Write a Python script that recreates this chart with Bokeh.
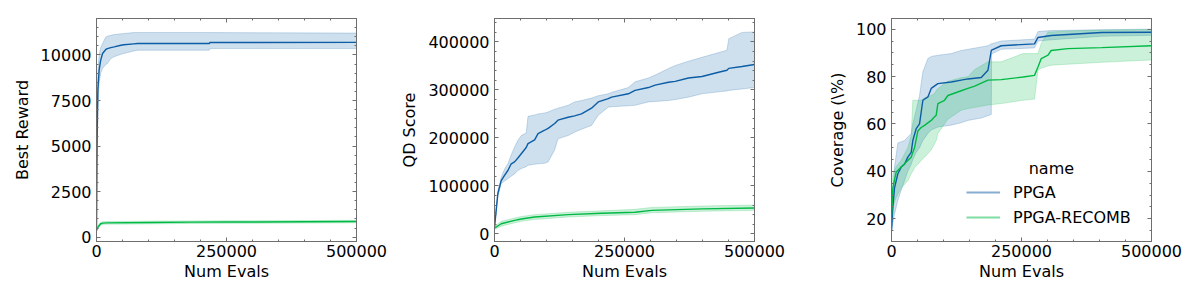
from bokeh.plotting import figure
from bokeh.layouts import row
from bokeh.models import (Range1d, FixedTicker, LinearAxis, BasicTickFormatter,
                          CustomJSTickFormatter, Legend, LegendItem, Label)
from bokeh.embed import file_html
from bokeh.resources import INLINE

# ---------------- data ----------------
series_names = ["PPGA", "PPGA-RECOMB"]
x_ticks = [0, 250000, 500000]

# Panel 1: Best Reward
reward_ppga_x = [0, 1000, 2500, 5000, 8000, 11600, 17900, 21000, 27500, 34000, 47000, 52600, 71800, 79000, 217000, 218000, 500000]
reward_ppga_mean = [400, 5000, 8000, 9160, 9700, 10077, 10300, 10350, 10400, 10440, 10530, 10560, 10610, 10625, 10625, 10680, 10690]
reward_ppga_hi = [400, 6200, 9000, 10000, 10400, 10625, 10990, 11030, 11080, 11120, 11160, 11175, 11230, 11230, 11230, 11230, 11200]
reward_ppga_lo = [400, 3800, 6800, 8400, 9000, 9250, 9480, 9530, 9800, 9900, 10040, 10077, 10220, 10260, 10260, 10350, 10350]

reward_rec_x = [0, 3000, 8000, 12000, 20000, 100000, 181000, 250000, 400000, 500000]
reward_rec_mean = [370, 560, 740, 775, 785, 805, 825, 830, 845, 860]
reward_rec_hi = [430, 640, 820, 850, 860, 880, 895, 900, 915, 930]
reward_rec_lo = [310, 480, 660, 700, 715, 730, 755, 760, 775, 790]

# Panel 2: QD Score
qd_ppga_x = [0, 6400, 12900, 19300, 25700, 32200, 38600, 45000, 51500, 61000, 64400, 77200, 83700, 96500, 103000,
             115800, 122000, 141600, 154000, 167300, 186600, 199500, 218800, 225200, 257400, 270300, 296000,
             308900, 334600, 347500, 373000, 399000, 431000, 447000, 450500, 476000, 500000]
qd_ppga_mean = [14000, 83500, 111000, 122000, 132000, 146000, 150000, 158000, 167000, 180000, 188000, 196000, 209000, 216000, 220000,
                230000, 237000, 243000, 246000, 250000, 262000, 275000, 282000, 285000, 292000, 299000, 305000,
                310000, 316000, 318000, 325000, 328000, 337000, 341000, 345000, 349000, 353000]
qd_ppga_hi = [14000, 90000, 118000, 135000, 146000, 165000, 181000, 195000, 205000, 210000, 245000, 248000, 250000, 252000, 254000,
              260000, 262000, 268000, 275000, 278000, 283000, 288000, 292000, 295000, 305000, 317000, 325000,
              331000, 345000, 351000, 360000, 368000, 378000, 383000, 407000, 420000, 421000]
qd_ppga_lo = [14000, 78000, 105000, 110000, 115000, 120000, 125000, 132000, 136000, 140000, 143000, 145000, 146000, 147000, 150000,
              175000, 198000, 205000, 212000, 218000, 226000, 247000, 264000, 265000, 267000, 268000, 275000,
              276000, 278000, 280000, 285000, 292000, 296000, 298000, 299000, 302000, 305000]

qd_rec_x = [0, 12900, 38600, 51500, 77000, 141600, 206000, 270000, 302000, 399000, 500000]
qd_rec_mean = [12000, 21000, 28000, 31000, 35000, 40000, 43000, 45000, 49000, 52000, 54000]
qd_rec_hi = [15000, 26000, 33000, 36000, 40000, 45000, 48000, 51000, 55000, 58000, 60000]
qd_rec_lo = [9000, 16000, 23000, 26000, 30000, 35000, 38000, 40000, 44000, 47000, 49000]

# Panel 3: Coverage
cov_ppga_x = [0, 2600, 5800, 12200, 18600, 25000, 31400, 37900, 41000, 47500, 53900, 60300, 70000, 76400, 89200,
              114900, 134000, 147000, 172600, 185500, 191900, 192500, 211000, 275000, 281700, 307000, 404000, 500000]
cov_ppga_mean = [15, 25, 33, 39, 41.8, 43, 46, 48, 53, 58, 60, 70, 71.4, 75, 77,
                 77.7, 78.5, 79, 79.6, 82.7, 91.0, 91.2, 93.0, 93.8, 96.5, 97.3, 98.6, 98.7]
cov_ppga_hi = [15, 30, 42, 52, 52.5, 53, 54.5, 56, 60, 65.8, 72, 82, 87.6, 88.5, 89,
               89.7, 91, 91.5, 92.5, 93, 93.8, 93.8, 95.0, 95.8, 99.0, 99.4, 99.8, 100]
cov_ppga_lo = [15, 18, 22, 27.7, 32, 36, 40, 43, 45, 48, 50, 53, 56, 57.5, 58.7,
               59.5, 60.5, 61.5, 62.5, 63.5, 64, 89.5, 91.5, 92.1, 95.0, 95.5, 97.0, 97.4]

cov_rec_x = [0, 2600, 9000, 18600, 31400, 37900, 41000, 44300, 50700, 57000, 63500, 76400, 82800, 86000, 89200,
             102000, 108500, 134000, 147000, 160000, 185500, 211000, 253000, 275000, 281700, 288000, 301000,
             307000, 339000, 404000, 500000]
cov_rec_mean = [20.7, 33, 39.7, 41.8, 44.6, 46, 48, 50, 57, 58.5, 59.4, 61.5, 63, 63.7, 68.6,
                70, 72, 74, 75, 76, 78.5, 78.7, 79.8, 80.5, 84, 87.6, 89,
                91, 91.8, 92.2, 93.0]
cov_rec_hi = [22, 39, 42, 44.6, 50, 55, 70, 70, 70, 70, 71, 72, 72.8, 74, 75,
              77, 78, 79.5, 79.9, 83, 86.2, 86.2, 89.7, 89.7, 89.7, 94, 98.8,
              98.8, 99.2, 99.6, 99.9]
cov_rec_lo = [18, 25, 29, 33, 36, 39, 40, 41.5, 43, 44.6, 46, 49, 51.7, 53, 56,
              60, 62, 65.8, 66.5, 67, 68, 68.6, 70, 70.5, 82.7, 83.5, 84.5,
              84.8, 85.2, 86, 87]

BLUE = "#0C5DA5"
GREEN = "#00B945"
FRAME = "#6e6e6e"
FONT = "DejaVu Sans"
FS = "16px"


def style_axis(ax, ticker, show_labels):
    ax.ticker = ticker
    ax.axis_line_color = FRAME
    ax.major_tick_line_color = FRAME
    ax.minor_tick_line_color = FRAME
    ax.major_tick_in = 4
    ax.major_tick_out = 0
    ax.minor_tick_in = 2
    ax.minor_tick_out = 0
    ax.major_label_text_font = FONT
    ax.major_label_text_font_size = FS
    ax.major_label_text_color = "#000000"
    ax.axis_label_text_font = FONT
    ax.axis_label_text_font_size = FS
    ax.axis_label_text_font_style = "normal"
    ax.axis_label_text_color = "#000000"
    if show_labels:
        ax.formatter = BasicTickFormatter(use_scientific=False)
    else:
        ax.formatter = CustomJSTickFormatter(code="return ''")
        ax.major_label_text_font_size = "0px"


def make_panel(y_start, y_end, yticks, yminor, ylabel, series):
    p = figure(frame_width=260, frame_height=223,
               min_border_left=96, min_border_right=41, min_border_top=18, min_border_bottom=48,
               x_range=Range1d(0, 500000), y_range=Range1d(y_start, y_end),
               output_backend="svg", toolbar_location=None, tools="")
    p.xgrid.visible = False
    p.ygrid.visible = False
    p.outline_line_color = FRAME
    p.outline_line_width = 1
    p.background_fill_color = "white"
    p.border_fill_color = "white"

    xt_minor = list(range(0, 500001, 50000))
    xtick = FixedTicker(ticks=x_ticks, minor_ticks=xt_minor)
    ytick = FixedTicker(ticks=yticks, minor_ticks=yminor)

    style_axis(p.xaxis[0], xtick, True)
    p.xaxis[0].axis_label = "Num Evals"
    p.xaxis[0].major_label_standoff = 3
    p.xaxis[0].axis_label_standoff = 2
    style_axis(p.yaxis[0], ytick, True)
    p.yaxis[0].axis_label = ylabel
    p.yaxis[0].major_label_standoff = 5
    p.yaxis[0].axis_label_standoff = 6

    top = LinearAxis()
    style_axis(top, FixedTicker(ticks=x_ticks, minor_ticks=xt_minor), False)
    p.add_layout(top, "above")
    right = LinearAxis()
    style_axis(right, FixedTicker(ticks=yticks, minor_ticks=yminor), False)
    p.add_layout(right, "right")

    for (xs, m, lo, hi, col) in series:
        px = list(xs) + list(xs)[::-1]
        py = list(hi) + list(lo)[::-1]
        p.patch(px, py, fill_color=col, fill_alpha=0.2, line_color=col, line_alpha=0.2, line_width=1)
    for (xs, m, lo, hi, col) in series:
        p.line(xs, m, line_color=col, line_width=1.4)
    return p


p1 = make_panel(-236, 12000, [0, 2500, 5000, 7500, 10000], list(range(0, 12001, 500)), "Best Reward",
                [(reward_ppga_x, reward_ppga_mean, reward_ppga_lo, reward_ppga_hi, BLUE),
                 (reward_rec_x, reward_rec_mean, reward_rec_lo, reward_rec_hi, GREEN)])
p2 = make_panel(-16000, 449000, [0, 100000, 200000, 300000, 400000], list(range(0, 440001, 20000)), "QD Score",
                [(qd_ppga_x, qd_ppga_mean, qd_ppga_lo, qd_ppga_hi, BLUE),
                 (qd_rec_x, qd_rec_mean, qd_rec_lo, qd_rec_hi, GREEN)])
p3 = make_panel(10.4, 104.5, [20, 40, 60, 80, 100], list(range(15, 105, 5)), "Coverage (\\%)",
                [(cov_ppga_x, cov_ppga_mean, cov_ppga_lo, cov_ppga_hi, BLUE),
                 (cov_rec_x, cov_rec_mean, cov_rec_lo, cov_rec_hi, GREEN)])

# legend for panel 3 (hidden proxy renderers carry the legend styling)
r_a = p3.line(cov_ppga_x, cov_ppga_mean, line_color=BLUE, line_width=2.2, line_alpha=0.5, visible=False)
r_b = p3.line(cov_rec_x, cov_rec_mean, line_color=GREEN, line_width=2.2, line_alpha=0.5, visible=False)
legend = Legend(items=[LegendItem(label=series_names[0], renderers=[r_a]),
                       LegendItem(label=series_names[1], renderers=[r_b])],
                location=(75, 14), orientation="vertical",
                border_line_alpha=0, background_fill_alpha=0,
                padding=0, margin=0, spacing=5,
                glyph_width=34, glyph_height=20, label_height=20, label_standoff=13,
                label_text_font=FONT, label_text_font_size=FS, label_text_color="#000000")
p3.add_layout(legend, "center")
p3.add_layout(Label(x=307500, y=41.4, text="name", text_align="center", text_baseline="middle",
                    text_font=FONT, text_font_size=FS, text_color="#000000"))

layout = row(p1, p2, p3)
open("out.html", "w").write(file_html(layout, INLINE))
